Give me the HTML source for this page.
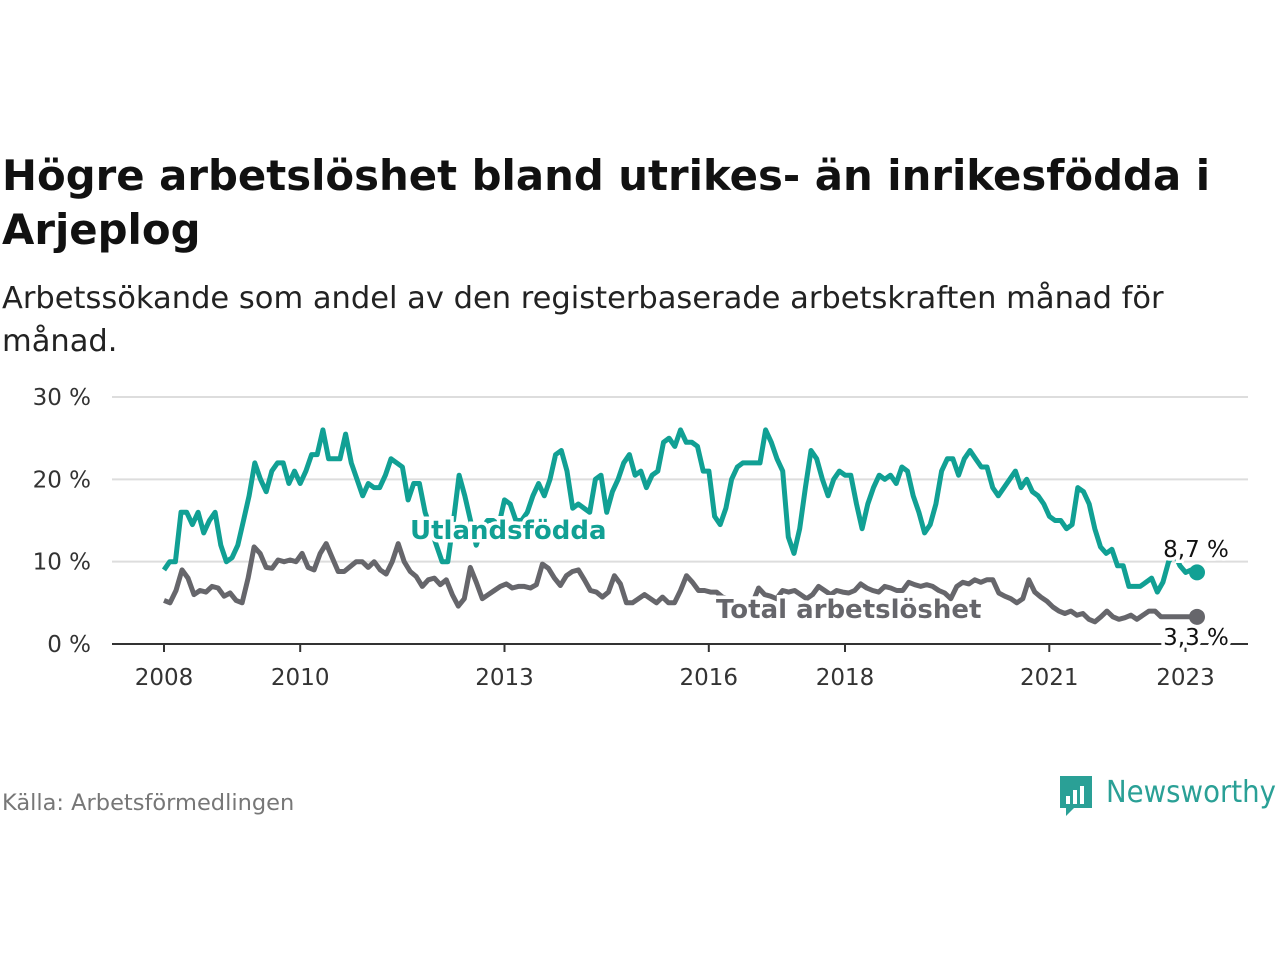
<!DOCTYPE html>
<html><head><meta charset="utf-8"><style>
html,body{margin:0;padding:0;background:#fff;width:1280px;height:960px;overflow:hidden}
svg{display:block;font-family:"DejaVu Sans","Liberation Sans",sans-serif}
</style></head><body>
<svg width="1280" height="960" viewBox="0 0 1280 960">
<text x="2" y="190" font-size="41.8" font-weight="bold" fill="#111">Högre arbetslöshet bland utrikes- än inrikesfödda i</text>
<text x="2" y="244" font-size="41.8" font-weight="bold" fill="#111">Arjeplog</text>
<text x="2" y="308" font-size="30.5" fill="#222">Arbetssökande som andel av den registerbaserade arbetskraften månad för</text>
<text x="2" y="351" font-size="30.5" fill="#222">månad.</text>
<g id="grid"></g>
<g id="yt"></g>
<g id="xt"></g>
<g id="series"></g>
<text x="2" y="810" font-size="22.5" fill="#777">Källa: Arbetsförmedlingen</text>
<g>
<path d="M1060 776 h32 v32 h-18 l-8 8 v-8 h-6 z" fill="#2aa096"/>
<rect x="1066" y="796" width="4" height="8" fill="#fff"/><rect x="1073" y="790" width="4" height="14" fill="#fff"/><rect x="1080" y="786" width="4" height="18" fill="#fff"/>
<text x="1106" y="802" font-size="30" fill="#2aa096" font-family="DejaVu Sans, sans-serif" textLength="170" lengthAdjust="spacingAndGlyphs">Newsworthy</text>
</g>
</svg>
<script>
const yTicks=[0,10,20,30];
const xTickLabels=["2008","2010","2013","2016","2018","2021","2023"];
const xTickYears=[2008,2010,2013,2016,2018,2021,2023];
const utlandsfodda=[9,10,10,16,16,14.5,16,13.5,15,16,12,10,10.5,12,15,18,22,20,18.5,21,22,22,19.5,21,19.5,21,23,23,26,22.5,22.5,22.5,25.5,22,20,18,19.5,19,19,20.5,22.5,22,21.5,17.5,19.5,19.5,16,14,12,10,10,15,20.5,18,15,12,14,15,15,14.5,17.5,17,15,15,16,18,19.5,18,20,23,23.5,21,16.5,17,16.5,16,20,20.5,16,18.5,20,22,23,20.5,21,19,20.5,21,24.5,25,24,26,24.5,24.5,24,21,21,15.5,14.5,16.5,20,21.5,22,22,22,22,26,24.5,22.5,21,13,11,14,19,23.5,22.5,20,18,20,21,20.5,20.5,17,14,17,19,20.5,20,20.5,19.5,21.5,21,18,16,13.5,14.5,17,21,22.5,22.5,20.5,22.5,23.5,22.5,21.5,21.5,19,18,19,20,21,19,20,18.5,18,17,15.5,15,15,14,14.5,19,18.5,17,14,11.8,11,11.5,9.5,9.5,7,7,7,7.5,8,6.3,7.5,10,11,9.5,8.7,9,8.7];
const total=[5.3,5,6.5,9,8,6,6.5,6.3,7,6.8,5.8,6.2,5.3,5,8,11.8,11,9.3,9.2,10.2,10,10.2,10,11,9.3,9,11,12.2,10.5,8.8,8.8,9.4,10,10,9.3,10,9,8.5,10,12.2,10,8.8,8.2,7,7.8,8,7.2,7.8,6,4.6,5.5,9.3,7.5,5.5,6,6.5,7,7.3,6.8,7,7,6.8,7.2,9.7,9.2,8,7.1,8.3,8.8,9,7.8,6.5,6.3,5.7,6.3,8.3,7.3,5,5,5.5,6,5.5,5,5.7,5,5,6.5,8.3,7.5,6.5,6.5,6.3,6.3,5.7,5.5,4.6,4.2,4.2,5,6.8,6,5.8,5.5,6.5,6.3,6.5,6,5.5,6,7,6.5,6,6.5,6.3,6.2,6.5,7.3,6.8,6.5,6.3,7,6.8,6.5,6.5,7.5,7.2,7,7.2,7,6.5,6.2,5.5,7,7.5,7.3,7.8,7.5,7.8,7.8,6.2,5.8,5.5,5,5.5,7.8,6.3,5.7,5.2,4.5,4,3.7,4,3.5,3.7,3,2.7,3.3,4,3.3,3,3.2,3.5,3,3.5,4,4,3.3,3.3,3.3,3.3,3.3,3.3,3.3];
const NS="http://www.w3.org/2000/svg";
const X0=164,X1=1197,Y0=644,PPU=8.233;
function ys(v){return Y0-v*PPU;}
function xYear(y){return 164+(y-2008)*68.1;}
function xi(i,n){return X0+(X1-X0)*i/(n-1);}
function mk(t,a,p){const e=document.createElementNS(NS,t);for(const k in a)e.setAttribute(k,a[k]);p.appendChild(e);return e;}
const grid=document.getElementById('grid'),yt=document.getElementById('yt'),xt=document.getElementById('xt'),ser=document.getElementById('series');
yTicks.forEach(v=>{
 if(v>0){const l=mk('line',{x1:112,x2:1248,y1:ys(v),y2:ys(v),stroke:'#ddd','stroke-width':2},grid);
 
 }
 const t=mk('text',{x:91,y:ys(v)+8,'font-size':23,fill:'#333','text-anchor':'end'},yt);t.textContent=v+' %';
 
 
});
const ax=mk('line',{x1:112,x2:1248,y1:Y0,y2:Y0,stroke:'#333','stroke-width':2},xt);


xTickYears.forEach((yr,i)=>{
 const x=xYear(yr);
 const tk=mk('line',{x1:x,x2:x,y1:Y0,y2:Y0+8,stroke:'#333','stroke-width':2},xt);
 
 
 const t=mk('text',{x:x,y:685,'font-size':23,fill:'#333','text-anchor':'middle'},xt);t.textContent=xTickLabels[i];
 
 
});
function line(data,color,name){
 const n=data.length;const d=data.map((v,i)=>(i?'L':'M')+xi(i,n).toFixed(1)+' '+ys(v).toFixed(1)).join(' ');
 const p=mk('path',{d:d,fill:'none',stroke:color,'stroke-width':5,'stroke-linejoin':'round'},ser);
 
 
 const c=mk('circle',{cx:xi(n-1,n),cy:ys(data[n-1]),r:8,fill:color},ser);
 
 
}
line(total,'#66666b','total');
line(utlandsfodda,'#11a094','utlandsfodda');
function lab(x,y,txt,color,size,weight,name,anchor){
 const t=mk('text',{x:x,y:y,'font-size':size,'font-weight':weight,fill:color,stroke:'#fff','stroke-width':7,'paint-order':'stroke','text-anchor':anchor||'start'},ser);t.textContent=txt;
 
 
}
lab(410,539,'Utlandsfödda','#11a094',26,'bold','utlandsfodda-label');
lab(716,618,'Total arbetslöshet','#66666b',26,'bold','total-label');
lab(1196,557,'8,7 %','#111',23,'normal','utlandsfodda-end-value','middle');
lab(1196,645,'3,3 %','#111',23,'normal','total-end-value','middle');
</script>
</body></html>
